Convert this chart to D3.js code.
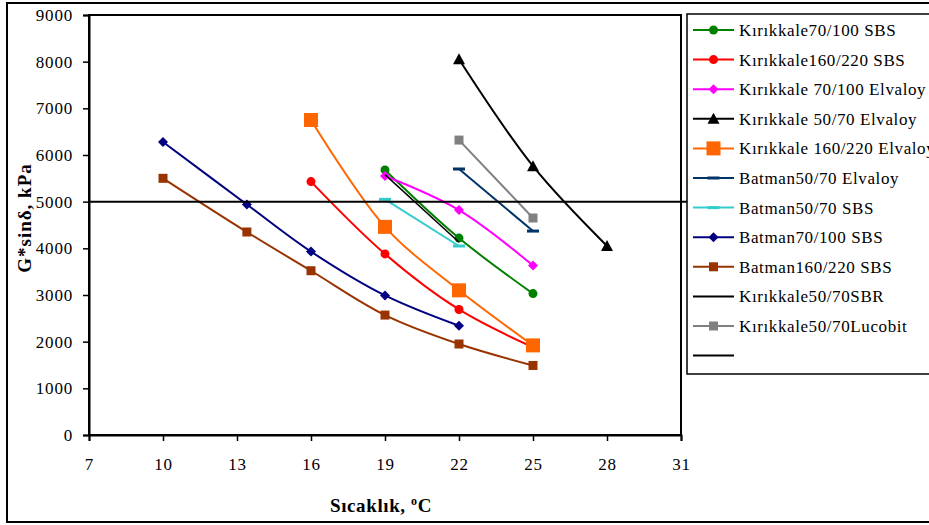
<!DOCTYPE html>
<html>
<head>
<script src="https://d3js.org/d3.v7.min.js"></script>
<style>
  body { margin: 0; background: #fff; }
  text { font-family: "Liberation Serif", "Times New Roman", serif; }
</style>
</head>
<body>
<div id="my_dataviz"></div>
<script>

// series names, colours and marker types
var names = ["Kırıkkale70/100 SBS", "Kırıkkale160/220 SBS", "Kırıkkale 70/100 Elvaloy",
  "Kırıkkale 50/70 Elvaloy", "Kırıkkale 160/220 Elvaloy", "Batman50/70 Elvaloy",
  "Batman50/70 SBS", "Batman70/100 SBS", "Batman160/220 SBS", "Kırıkkale50/70SBR",
  "Kırıkkale50/70Lucobit", ""];
var colors = ["#008000", "#ff0000", "#ff00ff", "#000000", "#ff6600", "#003366",
  "#33cccc", "#000080", "#993300", "#000000", "#808080", "#000000"];
var markers = ["circle", "circle", "diamond", "triangle", "bigsquare", "dash",
  "dash", "diamond", "square", "none", "square", "none"];

// temperatures (x) and G*sin(delta) values (y) for each series
var xs = [
  [19, 22, 25],
  [16, 19, 22, 25],
  [19, 22, 25],
  [22, 25, 28],
  [16, 19, 22, 25],
  [22, 25],
  [19, 22],
  [10, 13.4, 16, 19, 22],
  [10, 13.4, 16, 19, 22, 25],
  [19, 22],
  [22, 25],
  [7, 31.25]
];
var ys = [
  [5680, 4220, 3030],
  [5430, 3880, 2690, 1880],
  [5550, 4820, 3630],
  [8050, 5760, 4050],
  [6750, 4460, 3100, 1920],
  [5700, 4370],
  [5050, 4050],
  [6280, 4940, 3930, 2990, 2340],
  [5500, 4350, 3520, 2570, 1950, 1490],
  [5580, 4130],
  [6320, 4650],
  [5000, 5000]
];

var xTicks = [7, 10, 13, 16, 19, 22, 25, 28, 31];
var yTicks = [0, 1000, 2000, 3000, 4000, 5000, 6000, 7000, 8000, 9000];

var svg = d3.select("#my_dataviz")
  .append("svg")
    .attr("width", 929)
    .attr("height", 525);

// outer frame
svg.append("rect")
  .attr("x", 7).attr("y", 3).attr("width", 940).attr("height", 519)
  .attr("fill", "none").attr("stroke", "#000").attr("stroke-width", 2);

var x = d3.scaleLinear().domain([7, 31]).range([89, 681]);
var y = d3.scaleLinear().domain([0, 9000]).range([435, 15]);

// plot area border
svg.append("rect")
  .attr("x", 89).attr("y", 15).attr("width", 592).attr("height", 420)
  .attr("fill", "none").attr("stroke", "#000").attr("stroke-width", 2);

var xAxis = svg.append("g")
  .attr("transform", "translate(0,435)")
  .call(d3.axisBottom(x).tickValues(xTicks).tickFormat(d3.format("d")).tickSize(6).tickPadding(17));
var yAxis = svg.append("g")
  .attr("transform", "translate(89,0)")
  .call(d3.axisLeft(y).tickValues(yTicks).tickFormat(d3.format("d")).tickSize(6).tickPadding(10));

[xAxis, yAxis].forEach(function(a) {
  a.attr("font-family", "Liberation Serif");
  a.select(".domain").attr("stroke-width", 2);
  a.selectAll("line").attr("stroke-width", 1.5);
  a.selectAll("text").attr("font-size", 17).attr("fill", "#000")
    .style("letter-spacing", "0.8px");
});

// axis titles
svg.append("text")
  .attr("transform", "translate(31,218) rotate(-90)")
  .attr("text-anchor", "middle")
  .attr("font-size", 19).attr("font-weight", "bold")
  .style("letter-spacing", "1px")
  .text("G*sinδ, kPa");

var xt = svg.append("text")
  .attr("x", 381).attr("y", 512)
  .attr("text-anchor", "middle")
  .attr("font-size", 19).attr("font-weight", "bold")
  .style("letter-spacing", "0.6px");
xt.append("tspan").text("Sıcaklık, ");
xt.append("tspan").attr("font-size", 12).attr("dy", -7).text("o");
xt.append("tspan").attr("dy", 7).text("C");

function drawMarker(g, type, color) {
  if (type == "circle") {
    g.append("circle").attr("r", 4.5).attr("fill", color);
  } else if (type == "diamond") {
    g.append("path").attr("d", "M0,-5L5,0L0,5L-5,0Z").attr("fill", color);
  } else if (type == "triangle") {
    g.append("path").attr("d", "M0,-6L6,5L-6,5Z").attr("fill", color);
  } else if (type == "square") {
    g.append("rect").attr("x", -4.5).attr("y", -4.5).attr("width", 9).attr("height", 9).attr("fill", color);
  } else if (type == "bigsquare") {
    g.append("rect").attr("x", -7).attr("y", -7).attr("width", 14).attr("height", 14).attr("fill", color);
  } else if (type == "dash") {
    g.append("rect").attr("x", -6).attr("y", -1.5).attr("width", 12).attr("height", 3).attr("fill", color);
  }
}

var line = d3.line()
  .x(function(d) { return x(d[0]); })
  .y(function(d) { return y(d[1]); })
  .curve(d3.curveCatmullRom.alpha(0.5));

names.forEach(function(n, i) {
  var pts = xs[i].map(function(v, j) { return [v, ys[i][j]]; });
  var sw = (i == 9) ? 1.5 : 2;
  svg.append("path")
    .datum(pts)
    .attr("d", line)
    .attr("fill", "none")
    .attr("stroke", colors[i])
    .attr("stroke-width", sw);
  pts.forEach(function(p) {
    var g = svg.append("g").attr("transform", "translate(" + x(p[0]) + "," + y(p[1]) + ")");
    drawMarker(g, markers[i], colors[i]);
  });
});

// legend
var leg = svg.append("g");
leg.append("rect")
  .attr("x", 687).attr("y", 14).attr("width", 260).attr("height", 360)
  .attr("fill", "#fff").attr("stroke", "#000").attr("stroke-width", 1.5);

names.forEach(function(n, i) {
  var yy = 30 + i * 29.6;
  leg.append("line")
    .attr("x1", 693).attr("x2", 734).attr("y1", yy).attr("y2", yy)
    .attr("stroke", colors[i]).attr("stroke-width", 2);
  var g = leg.append("g").attr("transform", "translate(713.5," + yy + ")");
  drawMarker(g, markers[i], colors[i]);
  leg.append("text")
    .attr("x", 739).attr("y", yy + 6)
    .attr("font-size", 17)
    .style("letter-spacing", "0.6px")
    .text(n);
});

</script>
</body>
</html>
